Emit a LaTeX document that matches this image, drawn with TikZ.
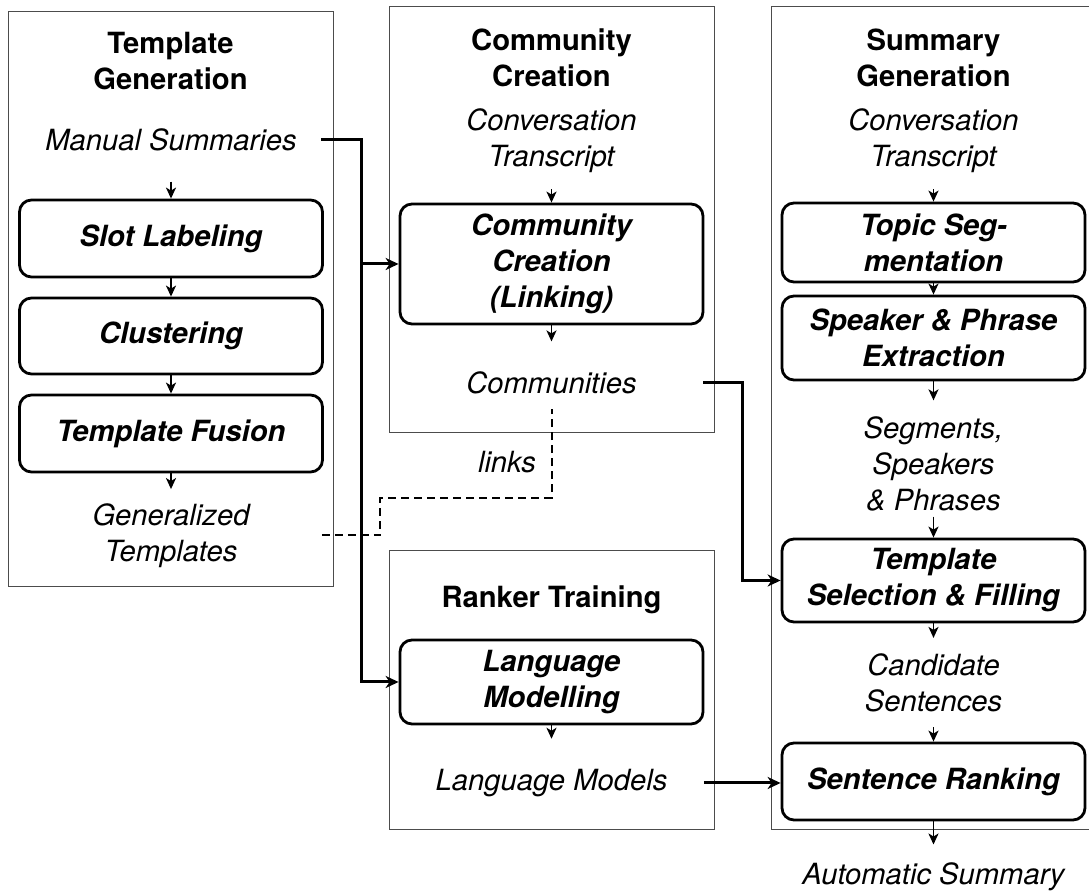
\documentclass[tikz,border=0pt]{standalone}
\usepackage{fontspec}
\setmainfont{TeX Gyre Heros}
\usetikzlibrary{arrows.meta}
\newcommand{\figfont}{\fontsize{14.6}{18}\selectfont}

\begin{document}
\begin{tikzpicture}[x=0.5pt,y=-0.5pt,
    panel/.style={draw=black!70, line width=0.5pt},
    heading/.style={font=\figfont\bfseries, align=center, inner sep=0pt},
    data/.style={font=\figfont\itshape, align=center, inner sep=0pt},
    stage/.style={draw, line width=1.4pt, rounded corners=6pt, font=\figfont\bfseries\itshape,
      align=center, inner sep=0pt, minimum width=151.5pt},
    flow/.style={line width=0.9pt, -{Stealth[length=5.5pt,width=5pt,inset=1.5pt]}},
    link/.style={line width=1.5pt, -{Stealth[length=6.5pt,width=6pt,inset=2pt]}},
    weak/.style={line width=1pt, dash pattern=on 4pt off 2.5pt}]
        \useasboundingbox (0,0) rectangle (1089,892);

        % Frames of the four stages.
        \draw[panel] (8,12) rectangle (333,587);
        \draw[panel] (389,7) rectangle (714,433);
        \draw[panel] (389,551) rectangle (714,830);
        \draw[panel] (771,7) rectangle (1096,830);

        % Template generation.
        \node[heading] (tgen) at (170.5,61) {Template\\Generation};
        \node[data] (man) at (171,140) {Manual Summaries};
        \node[stage, minimum height=38.5pt] (slot) at (171,238.5) {Slot Labeling};
        \node[stage, minimum height=38pt] (clust) at (171,336) {Clustering};
        \node[stage, minimum height=38.5pt] (fusion) at (171,433.5) {Template Fusion};
        \node[data] (gen) at (171,535.5) {Generalized\\Templates};

        % Community creation.
        \node[heading] (ccre) at (551.5,58) {Community\\Creation};
        \node[data] (ctr) at (551.5,141) {Conversation\\Transcript};
        \node[stage, minimum height=60pt] (comm) at (551.5,264) {Community\\Creation\\(Linking)};
        \node[data] (cmty) at (551.5,383) {Communities};
        \node[data] (lnk) at (507,462) {links};

        % Ranker training.
        \node[heading] (rtr) at (551.5,600) {Ranker Training};
        \node[stage, minimum height=42pt] (lm) at (551.5,682) {Language\\Modelling};
        \node[data] (lmods) at (551.5,783) {Language Models};

        % Summary generation.
        \node[heading] (sgen) at (933.5,58) {Summary\\Generation};
        \node[data] (str) at (933.5,141) {Conversation\\Transcript};
        \node[stage, minimum height=39.5pt] (topic) at (933.5,242.5) {Topic Seg-\\mentation};
        \node[stage, minimum height=42pt] (spk) at (933.5,338) {Speaker \& Phrase\\Extraction};
        \node[data] (seg) at (933.5,464) {Segments,\\Speakers\\\& Phrases};
        \node[stage, minimum height=41.5pt] (tsel) at (933.5,580.5) {Template\\Selection \& Filling};
        \node[data] (cand) at (933.5,682.5) {Candidate\\Sentences};
        \node[stage, minimum height=38.5pt] (rank) at (933.5,781.5) {Sentence Ranking};
        \node[data] (auto) at (933.5,877) {Automatic Summary};

        % Steps inside each stage.
        \draw[flow, shorten <=15pt] (man) -- (slot);
        \draw[flow] (slot) -- (clust);
        \draw[flow] (clust) -- (fusion);
        \draw[flow, shorten >=7pt] (fusion) -- (gen);
        \draw[flow, shorten <=8pt] (ctr) -- (comm);
        \draw[flow, shorten >=15pt] (comm) -- (cmty);
        \draw[flow, shorten >=15pt] (lm) -- (lmods);
        \draw[flow, shorten <=8pt] (str) -- (topic);
        \draw[flow] (topic) -- (spk);
        \draw[flow, shorten >=8pt] (spk) -- (seg);
        \draw[flow, shorten <=2.5pt] (seg) -- (tsel);
        \draw[flow, shorten >=7.5pt] (tsel) -- (cand);
        \draw[flow, shorten <=7.5pt] (cand) -- (rank);
        \draw[flow, shorten >=9pt] (rank) -- (auto);

        % Links between the stages.
        \coordinate (trunk) at (361,0);
        \coordinate (drop) at (742,0);
        \coordinate (kink) at (380,498);
        \draw[link, shorten <=12pt] (man.east) -| (trunk |- lm.west) -- (lm.west);
        \draw[link] (trunk |- comm.west) -- (comm.west);
        \draw[link, shorten <=33pt] (cmty.east) -| (drop |- tsel.west) -- (tsel.west);
        \draw[link, shorten <=18pt] (lmods.east) -- (lmods.east -| rank.west);
        \draw[weak, shorten <=36pt, shorten >=7pt] (gen.east) -| (kink) -| (cmty.south);
      \end{tikzpicture}
\end{document}
